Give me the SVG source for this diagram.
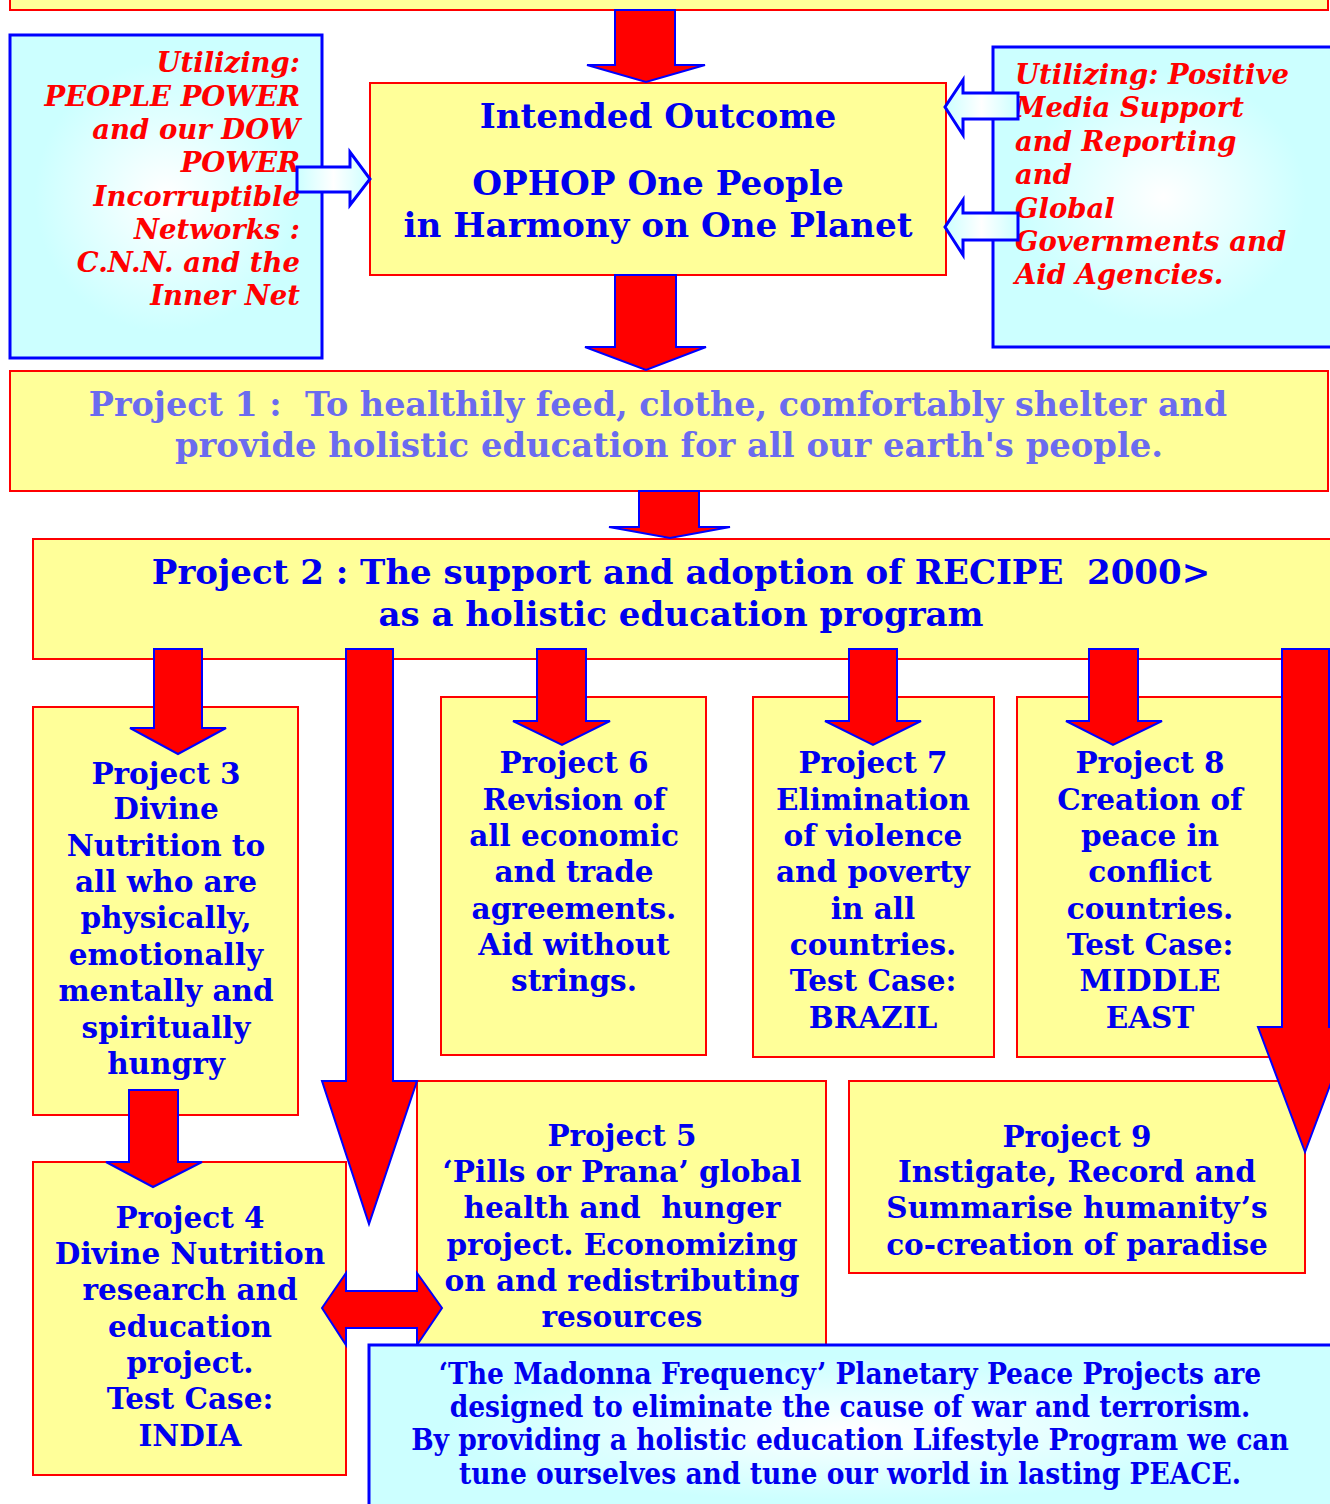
<svg xmlns="http://www.w3.org/2000/svg" width="1330" height="1504" viewBox="0 0 1330 1504">
<defs>
<radialGradient id="cy" cx="50%" cy="50%" r="60%">
<stop offset="0" stop-color="#FFFFFF"/>
<stop offset="0.7" stop-color="#CCFFFF"/>
<stop offset="1" stop-color="#CCFFFF"/>
</radialGradient>
<linearGradient id="hg" x1="0" y1="0" x2="1" y2="0">
<stop offset="0" stop-color="#CCFFFF"/>
<stop offset="0.5" stop-color="#FFFFFF"/>
<stop offset="1" stop-color="#CCFFFF"/>
</linearGradient>
<style>
.yb{fill:#FFFF99;stroke:#FF0000;stroke-width:2}
.cb{fill:url(#cy);stroke:#0000FF;stroke-width:3}
.ar{fill:#FF0000;stroke:#0000FF;stroke-width:2;stroke-linejoin:miter}
.ha{fill:url(#hg);stroke:#0000FF;stroke-width:3}
.t{font-family:"DejaVu Serif","Liberation Serif",serif;font-weight:bold;fill:#0000EE;text-anchor:middle;white-space:pre}
.r{font-family:"DejaVu Serif","Liberation Serif",serif;font-weight:bold;font-style:italic;fill:#FF0000}
.p1{fill:#6B6BEF}
.c{font-family:"DejaVu Serif Condensed","DejaVu Serif","Liberation Serif",serif;font-weight:bold;fill:#0000EE;text-anchor:middle;font-size:29.5px}
</style>
</defs>
<rect width="1330" height="1504" fill="#FFFFFF"/>

<g id="top-box"><rect class="yb" x="10" y="-10" width="1318" height="20"/></g>

<g id="intended-outcome">
<rect class="yb" x="370" y="83" width="576" height="192"/>
<text class="t" font-size="34.2" x="658" y="128">Intended Outcome</text>
<text class="t" font-size="34.2" x="658" y="195">OPHOP One People</text>
<text class="t" font-size="34.2" x="658" y="237">in Harmony on One Planet</text>
</g>

<g id="left-util">
<rect class="cb" x="10" y="35" width="312" height="323"/>
<g class="r" font-size="27.5" text-anchor="end">
<text x="300" y="72">Utilizing:</text>
<text x="300" y="106">PEOPLE POWER</text>
<text x="300" y="139">and our DOW</text>
<text x="300" y="172">POWER</text>
<text x="300" y="206">Incorruptible</text>
<text x="300" y="239">Networks :</text>
<text x="300" y="272">C.N.N. and the</text>
<text x="300" y="305">Inner Net</text>
</g>
</g>

<g id="right-util">
<rect class="cb" x="993" y="47" width="340" height="300"/>
<g class="r" font-size="27.5">
<text x="1015" y="84">Utilizing: Positive</text>
<text x="1015" y="117">Media Support</text>
<text x="1015" y="151">and Reporting</text>
<text x="1015" y="184">and</text>
<text x="1015" y="218">Global</text>
<text x="1015" y="251">Governments and</text>
<text x="1015" y="284">Aid Agencies.</text>
</g>
</g>

<g id="project1">
<rect class="yb" x="10" y="371" width="1318" height="120"/>
<text class="t p1" font-size="33.4" x="658" y="416" xml:space="preserve">Project 1 :  To healthily feed, clothe, comfortably shelter and</text>
<text class="t p1" font-size="33.8" x="669" y="457">provide holistic education for all our earth's people.</text>
</g>

<g id="project2">
<rect class="yb" x="33" y="539" width="1300" height="120"/>
<text class="t" font-size="34" x="681" y="584" xml:space="preserve">Project 2 : The support and adoption of RECIPE  2000&gt;</text>
<text class="t" font-size="34" x="681" y="626">as a holistic education program</text>
</g>

<g id="project3">
<rect class="yb" x="33" y="707" width="265" height="408"/>
<g class="t" font-size="29.5">
<text x="166" y="784">Project 3</text>
<text x="166" y="819">Divine</text>
<text x="166" y="856">Nutrition to</text>
<text x="166" y="892">all who are</text>
<text x="166" y="928">physically,</text>
<text x="166" y="965">emotionally</text>
<text x="166" y="1001">mentally and</text>
<text x="166" y="1038">spiritually</text>
<text x="166" y="1074">hungry</text>
</g>
</g>

<g id="project6">
<rect class="yb" x="441" y="697" width="265" height="358"/>
<g class="t" font-size="29.5">
<text x="574" y="773">Project 6</text>
<text x="574" y="810">Revision of</text>
<text x="574" y="846">all economic</text>
<text x="574" y="882">and trade</text>
<text x="574" y="919">agreements.</text>
<text x="574" y="955">Aid without</text>
<text x="574" y="991">strings.</text>
</g>
</g>

<g id="project7">
<rect class="yb" x="753" y="697" width="241" height="360"/>
<g class="t" font-size="29.5">
<text x="873" y="773">Project 7</text>
<text x="873" y="810">Elimination</text>
<text x="873" y="846">of violence</text>
<text x="873" y="882">and poverty</text>
<text x="873" y="919">in all</text>
<text x="873" y="955">countries.</text>
<text x="873" y="991">Test Case:</text>
<text x="873" y="1028">BRAZIL</text>
</g>
</g>

<g id="project8">
<rect class="yb" x="1017" y="697" width="270" height="360"/>
<g class="t" font-size="29.5">
<text x="1150" y="773">Project 8</text>
<text x="1150" y="810">Creation of</text>
<text x="1150" y="846">peace in</text>
<text x="1150" y="882">conflict</text>
<text x="1150" y="919">countries.</text>
<text x="1150" y="955">Test Case:</text>
<text x="1150" y="991">MIDDLE</text>
<text x="1150" y="1028">EAST</text>
</g>
</g>

<g id="project4">
<rect class="yb" x="33" y="1162" width="313" height="313"/>
<g class="t" font-size="29.5">
<text x="190" y="1228">Project 4</text>
<text x="190" y="1264">Divine Nutrition</text>
<text x="190" y="1300">research and</text>
<text x="190" y="1337">education</text>
<text x="190" y="1373">project.</text>
<text x="190" y="1409">Test Case:</text>
<text x="190" y="1446">INDIA</text>
</g>
</g>

<g id="project5">
<rect class="yb" x="417" y="1081" width="409" height="290"/>
<g class="t" font-size="29.5">
<text x="622" y="1146">Project 5</text>
<text x="622" y="1182">‘Pills or Prana’ global</text>
<text x="622" y="1218" xml:space="preserve">health and  hunger</text>
<text x="622" y="1255">project. Economizing</text>
<text x="622" y="1291">on and redistributing</text>
<text x="622" y="1327">resources</text>
</g>
</g>

<g id="project9">
<rect class="yb" x="849" y="1081" width="456" height="192"/>
<g class="t" font-size="29.5">
<text x="1077" y="1147">Project 9</text>
<text x="1077" y="1182">Instigate, Record and</text>
<text x="1077" y="1218">Summarise humanity’s</text>
<text x="1077" y="1255">co-creation of paradise</text>
</g>
</g>

<g id="connectors">
<polygon class="ar" points="615,10 675,10 675,65 705,65 646,82 587,65 615,65"/>
<polygon class="ar" points="615,275 676,275 676,347 706,347 646,370 585,347 615,347"/>
<polygon class="ar" points="639,491 699,491 699,527 730,527 670,538 609,527 639,527"/>
<polygon class="ha" points="297,167 350,167 350,152 370,179 350,205 350,192 297,192"/>
<polygon class="ha" points="1018,93 963,93 963,80 945,107 963,135 963,119 1018,119"/>
<polygon class="ha" points="1018,213 963,213 963,200 945,227 963,255 963,240 1018,240"/>
<polygon class="ar" points="154,649 202,649 202,728 226,728 178,754 130,728 154,728"/>
<polygon class="ar" points="346,649 393,649 393,1081 417,1081 369,1224 322,1081 346,1081"/>
<polygon class="ar" points="537,649 586,649 586,721 610,721 562,745 513,721 537,721"/>
<polygon class="ar" points="849,649 897,649 897,721 921,721 873,745 825,721 849,721"/>
<polygon class="ar" points="1089,649 1138,649 1138,721 1162,721 1113,745 1066,721 1089,721"/>
<polygon class="ar" points="1282,649 1329,649 1329,1027 1352,1027 1305,1152 1258,1027 1282,1027"/>
<polygon class="ar" points="129,1090 178,1090 178,1162 202,1162 153,1187 106,1162 129,1162"/>
<polygon class="ar" points="322,1308 346,1273 346,1291 417,1291 417,1273 442,1308 417,1345 417,1328 346,1328 346,1345"/>
</g>

<g id="summary">
<rect class="cb" x="369" y="1345" width="970" height="170"/>
<text class="c" x="850" y="1384">‘The Madonna Frequency’ Planetary Peace Projects are</text>
<text class="c" x="850" y="1417">designed to eliminate the cause of war and terrorism.</text>
<text class="c" x="850" y="1450">By providing a holistic education Lifestyle Program we can</text>
<text class="c" x="850" y="1484">tune ourselves and tune our world in lasting PEACE.</text>
</g>
</svg>
